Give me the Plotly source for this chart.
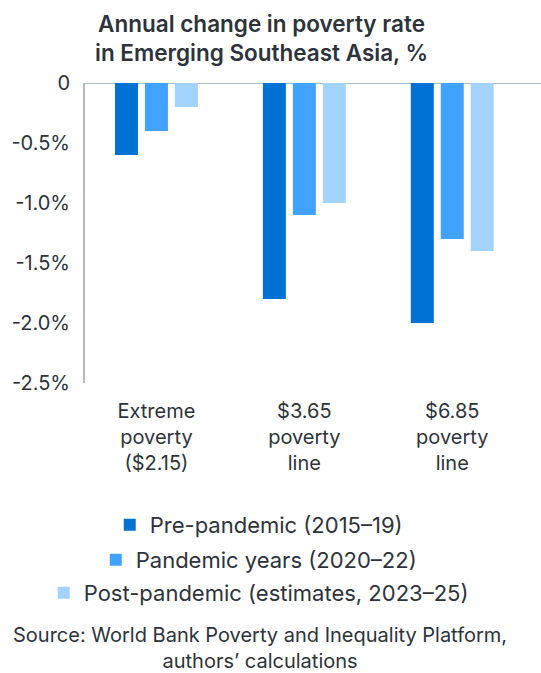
import plotly.graph_objects as go

categories = ["Extreme<br>poverty<br>($2.15)", "$3.65<br>poverty<br>line", "$6.85<br>poverty<br>line"]
series_names = ["Pre-pandemic (2015\u201319)", "Pandemic years (2020\u201322)",
                "Post-pandemic (estimates, 2023\u201325)"]
pre_pandemic = [-0.6, -1.8, -2.0]
pandemic = [-0.4, -1.1, -1.3]
post_pandemic = [-0.2, -1.0, -1.4]
tick_vals = [0, -0.5, -1.0, -1.5, -2.0, -2.5]
tick_text = ["0", "-0.5%", "-1.0%", "-1.5%", "-2.0%", "-2.5%"]

colors = ["#0072D5", "#40A3FF", "#A3D3FF"]
text_color = "#2D333B"
axis_color = "#AEBBCC"
FONT = "Inter"

fig = go.Figure()
legends = ["legend", "legend2", "legend3"]
for name, vals, col, lg in zip(series_names, [pre_pandemic, pandemic, post_pandemic], colors, legends):
    fig.add_trace(go.Bar(
        x=categories, y=vals, name=name,
        marker=dict(color=col, line=dict(width=0)),
        legend=lg,
    ))

# legend rows are centred individually, so each series gets its own legend
legend_style = dict(
    x=0.381, xanchor="center", yanchor="middle",
    font=dict(family=FONT, size=22, color=text_color),
    bgcolor="rgba(0,0,0,0)", itemwidth=30,
)

fig.update_layout(
    width=541, height=673,
    margin=dict(l=85, r=0, t=83, b=290),
    paper_bgcolor="white", plot_bgcolor="white",
    font=dict(family=FONT, color=text_color),
    barmode="group", bargap=0.392, bargroupgap=0.233,
    showlegend=True,
    legend=dict(y=-0.473, **legend_style),
    legend2=dict(y=-0.59, **legend_style),
    legend3=dict(y=-0.70, **legend_style),
    xaxis=dict(
        range=[-0.483, 2.6], showgrid=False, showline=False,
        ticks="outside", ticklen=10, tickcolor="rgba(0,0,0,0)",
        tickfont=dict(family=FONT, size=20, color=text_color),
    ),
    yaxis=dict(
        range=[-2.5, 0], tickvals=tick_vals, ticktext=tick_text,
        showgrid=False, zeroline=False,
        showline=True, linecolor=axis_color, linewidth=2,
        ticks="outside", ticklen=9, tickcolor="rgba(0,0,0,0)",
        tickfont=dict(family=FONT, size=20, color=text_color),
    ),
    shapes=[dict(type="line", xref="paper", yref="y", x0=0, x1=1, y0=0, y1=0,
                 line=dict(color=axis_color, width=2), layer="below")],
    annotations=[
        dict(text="Annual change in poverty rate<br>in Emerging Southeast Asia, %",
             xref="paper", yref="paper", x=0.386, y=1.15,
             xanchor="center", yanchor="middle", showarrow=False,
             font=dict(family=FONT, size=22.5, color=text_color, weight=600)),
        dict(text="Source: World Bank Poverty and Inequality Platform,<br>authors\u2019 calculations",
             xref="paper", yref="paper", x=0.384, y=-0.883,
             xanchor="center", yanchor="middle", showarrow=False,
             font=dict(family=FONT, size=20, color=text_color)),
    ],
)

fig.write_html("out.html", config={"displayModeBar": False},
               post_script="document.body.style.margin='0';")
